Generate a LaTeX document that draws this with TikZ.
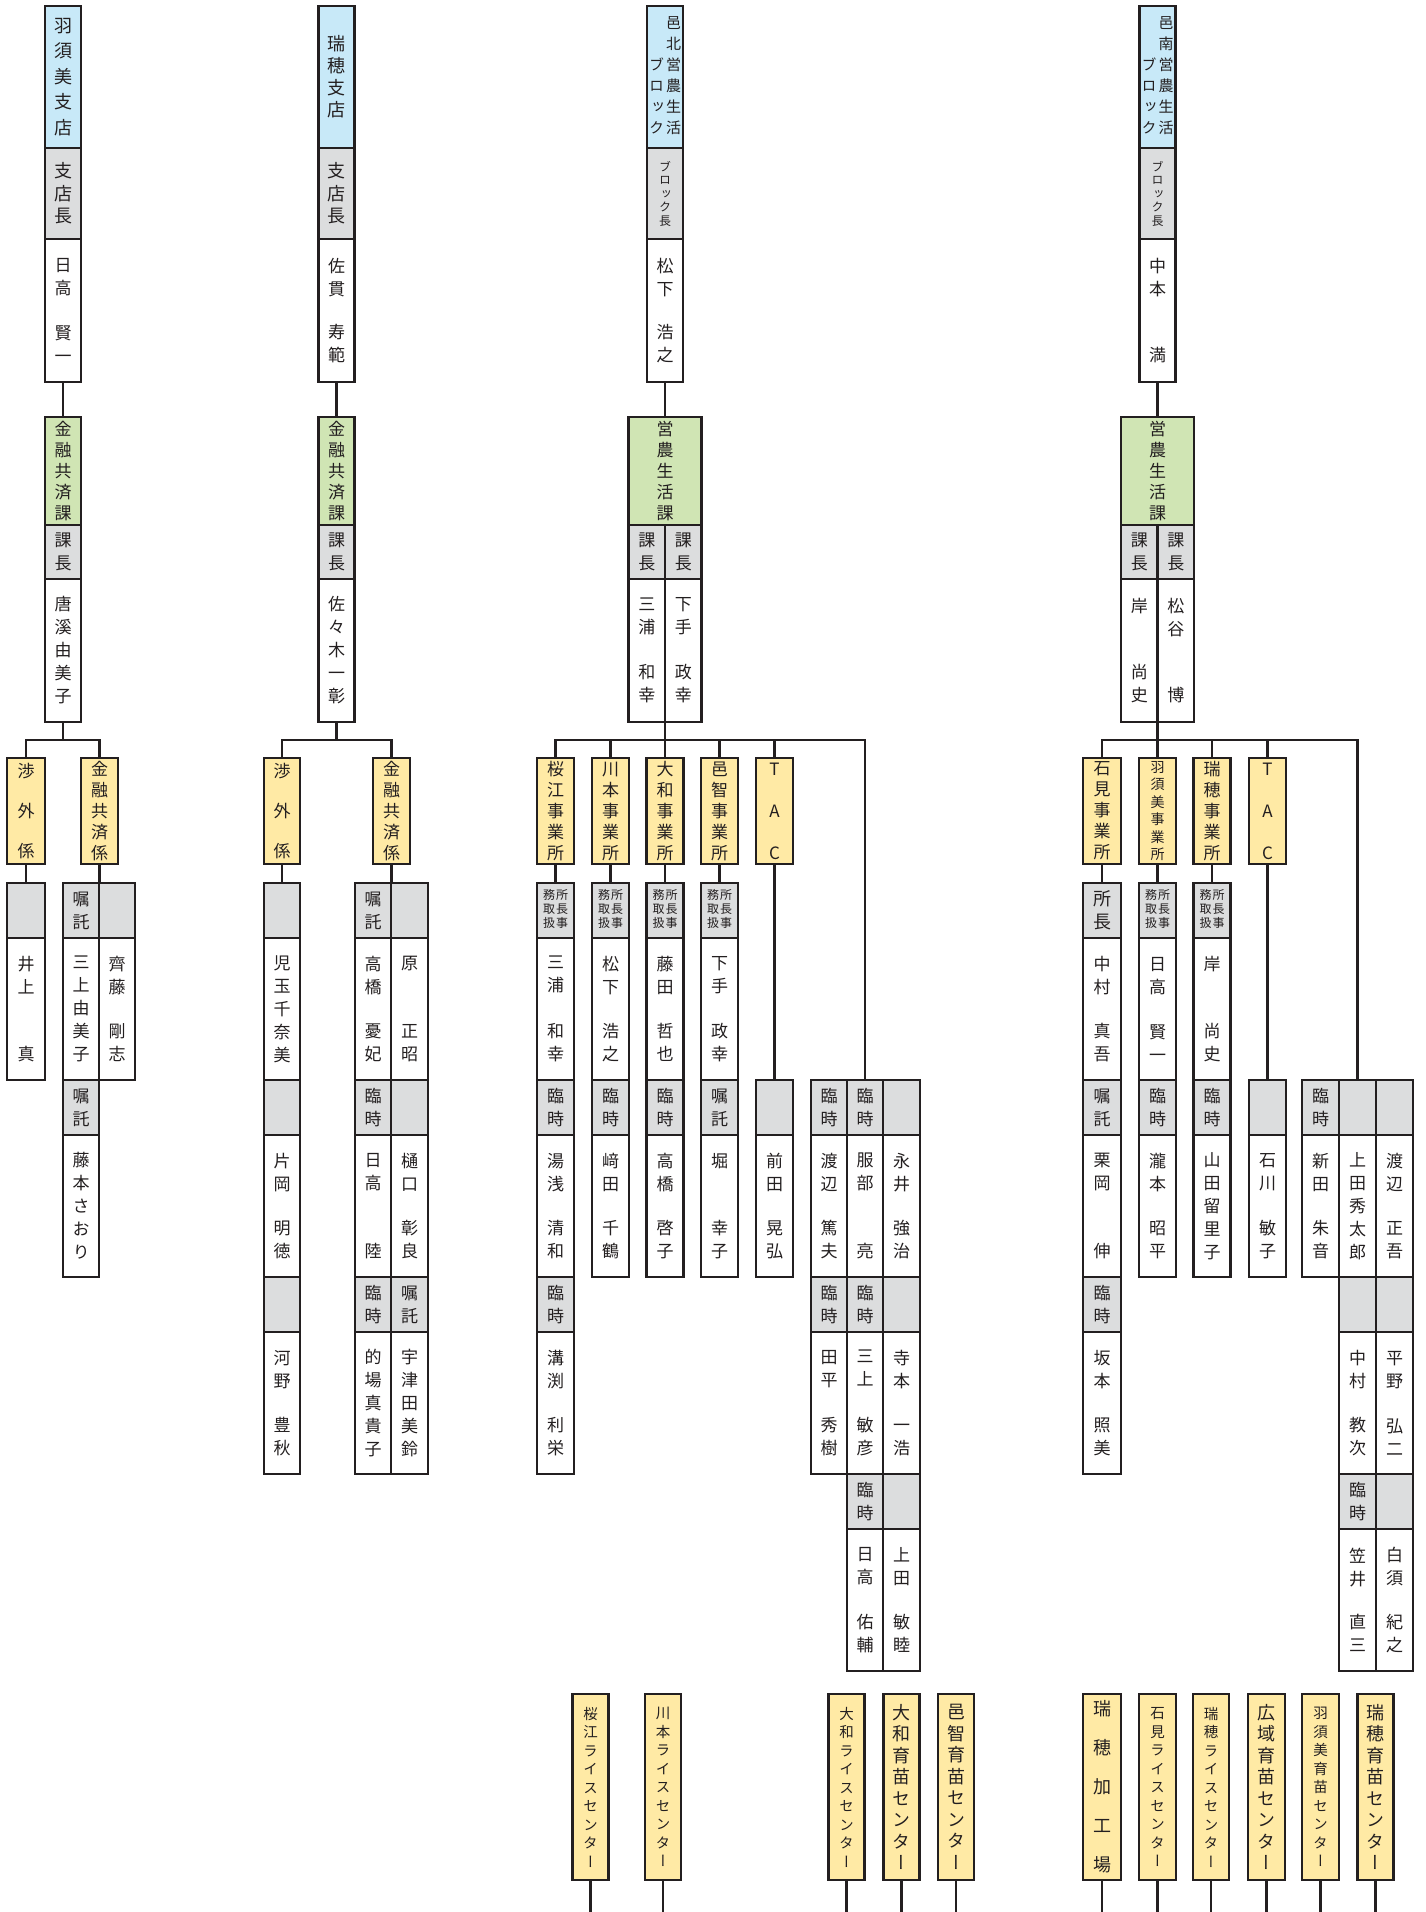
\documentclass[tikz,border=0pt]{standalone}
\usepackage{fontspec}
\setmainfont{Noto Sans CJK JP}[RawFeature=+vert]
\definecolor{linec}{HTML}{231F20}
\definecolor{sky}{HTML}{C8E9F8}
\definecolor{leaf}{HTML}{D0E5B4}
\definecolor{greyc}{HTML}{DCDDDE}
\definecolor{cream}{HTML}{FFEAA5}
% name cell: family name on top, given name at the bottom
\newcommand{\nm}[2]{\parbox[c][104pt][s]{30pt}{\centering #1\par\vfill #2\par}}
\newcommand{\tori}{{\fontsize{12}{14}\selectfont\begin{tabular}{@{}c@{\hspace{1pt}}c@{}}務&所\\取&長\\扱&事\end{tabular}}}
\tikzset{
  cellbox/.style={draw=linec, line width=2.2pt, inner sep=0pt, outer sep=0pt, anchor=north,
    minimum width=36pt, align=center, text=linec, font=\fontsize{17}{23}\selectfont},
  shiten/.style={cellbox, fill=sky, minimum height=142pt},
  yaku/.style={cellbox, fill=greyc, minimum height=55pt},
  meibo/.style={cellbox, fill=white, minimum height=142pt},
  kabox/.style={cellbox, fill=leaf, minimum height=108pt, font=\fontsize{17}{21}\selectfont},
  kakari/.style={cellbox, fill=cream, minimum width=37pt, minimum height=106pt, font=\fontsize{17}{21}\selectfont},
  shisetsu/.style={cellbox, fill=cream, minimum width=36pt, minimum height=186pt, font=\fontsize{14.5}{18.5}\selectfont},
  wire/.style={draw=linec, line width=2.2pt}
}
\begin{document}
\begin{tikzpicture}[x=1pt,y=-1pt]
  \fill[white] (0,0) rectangle (1425,1912);
  \useasboundingbox (0,0) rectangle (1425,1912);
  \coordinate (foot) at (0,1912);

  % ===== 羽須美支店 =====
  \node[shiten, font=\fontsize{18}{25.5}\selectfont] (hs) at (63,6) {羽\\須\\美\\支\\店};
  \node[yaku, minimum height=91pt, font=\fontsize{18}{22.5}\selectfont] (hsy) at (63,148) {支\\店\\長};
  \node[meibo, minimum height=143pt] (hsn) at (63,239) {\nm{日\\高}{賢\\一}};
  \node[kabox] (hsk) at (63,417) {金\\融\\共\\済\\課};
  \node[yaku, minimum height=54pt] (hsky) at (63,525) {課\\長};
  \node[meibo, minimum height=143pt] (hskn) at (63,579) {唐\\溪\\由\\美\\子};
  \node[kakari, minimum width=38pt, font=\fontsize{17}{40}\selectfont] (hsA) at (26,758) {渉\\外\\係};
  \node[kakari] (hsB) at (99.5,758) {金\\融\\共\\済\\係};
  % rows
  \node[yaku, minimum width=38pt] (hsA1) at (26,883) {};
  \node[meibo, minimum width=38pt] (hsA2) at (26,938) {\nm{井\\上}{真}};
  \node[yaku] (hsB1) at (81,883) {嘱\\託};
  \node[meibo] (hsB2) at (81,938) {三\\上\\由\\美\\子};
  \node[yaku] (hsB3) at (81,1080) {嘱\\託};
  \node[meibo] (hsB4) at (81,1135) {藤\\本\\さ\\お\\り};
  \node[yaku] (hsC1) at (117,883) {};
  \node[meibo] (hsC2) at (117,938) {\nm{齊\\藤}{剛\\志}};
  \draw[wire] (hsn.south) -- (hsk.north);
  \draw[wire] (hskn.south) -- ++(0,18) -| (hsA.north);
  \draw[wire] (hskn.south) -- ++(0,18) -| (hsB.north);
  \draw[wire] (hsA.south) -- (hsA1.north);
  \draw[wire] (hsB.south) -- (hsB.south |- hsB1.north);

  % ===== 瑞穂支店 =====
  \node[shiten, font=\fontsize{18}{22}\selectfont] (mz) at (336.5,6) {瑞\\穂\\支\\店};
  \node[yaku, minimum height=91pt, font=\fontsize{18}{22.5}\selectfont] (mzy) at (336.5,148) {支\\店\\長};
  \node[meibo, minimum height=143pt] (mzn) at (336.5,239) {\nm{佐\\貫}{寿\\範}};
  \node[kabox] (mzk) at (336.5,417) {金\\融\\共\\済\\課};
  \node[yaku, minimum height=54pt] (mzky) at (336.5,525) {課\\長};
  \node[meibo, minimum height=143pt] (mzkn) at (336.5,579) {佐\\々\\木\\一\\彰};
  \node[kakari, minimum width=36pt, font=\fontsize{17}{40}\selectfont] (mzA) at (282,758) {渉\\外\\係};
  \node[kakari] (mzB) at (391.5,758) {金\\融\\共\\済\\係};
  % rows
  \node[yaku] (mzA1) at (282,883) {};
  \node[meibo] (mzA2) at (282,938) {児\\玉\\千\\奈\\美};
  \node[yaku] (mzA3) at (282,1080) {};
  \node[meibo] (mzA4) at (282,1135) {\nm{片\\岡}{明\\徳}};
  \node[yaku] (mzA5) at (282,1277) {};
  \node[meibo] (mzA6) at (282,1332) {\nm{河\\野}{豊\\秋}};
  \node[yaku] (mzB1) at (373,883) {嘱\\託};
  \node[meibo] (mzB2) at (373,938) {\nm{高\\橋}{憂\\妃}};
  \node[yaku] (mzB3) at (373,1080) {臨\\時};
  \node[meibo] (mzB4) at (373,1135) {\nm{日\\高}{陸}};
  \node[yaku] (mzB5) at (373,1277) {臨\\時};
  \node[meibo] (mzB6) at (373,1332) {的\\場\\真\\貴\\子};
  \node[yaku, minimum width=37pt] (mzC1) at (409.5,883) {};
  \node[meibo, minimum width=37pt] (mzC2) at (409.5,938) {\nm{原}{正\\昭}};
  \node[yaku, minimum width=37pt] (mzC3) at (409.5,1080) {};
  \node[meibo, minimum width=37pt] (mzC4) at (409.5,1135) {\nm{樋\\口}{彰\\良}};
  \node[yaku, minimum width=37pt] (mzC5) at (409.5,1277) {嘱\\託};
  \node[meibo, minimum width=37pt] (mzC6) at (409.5,1332) {宇\\津\\田\\美\\鈴};
  \draw[wire] (mzn.south) -- (mzk.north);
  \draw[wire] (mzkn.south) -- ++(0,18) -| (mzA.north);
  \draw[wire] (mzkn.south) -- ++(0,18) -| (mzB.north);
  \draw[wire] (mzA.south) -- (mzA1.north);
  \draw[wire] (mzB.south) -- (mzB.south |- mzB1.north);

  % ===== 邑北営農生活ブロック =====
  \node[shiten, font=\fontsize{15}{21}\selectfont] (yh) at (665,6)
    {\begin{tabular}{@{}c@{\hspace{2pt}}c@{}} &邑\\ &北\\ブ&営\\ロ&農\\ッ&生\\ク&活\end{tabular}};
  \node[yaku, minimum height=91pt, font=\fontsize{12}{13.5}\selectfont] (yhy) at (665,148) {ブ\\ロ\\ッ\\ク\\長};
  \node[meibo, minimum height=143pt] (yhn) at (665,239) {\nm{松\\下}{浩\\之}};
  \node[kabox, minimum width=73pt] (yhk) at (665,417) {営\\農\\生\\活\\課};
  \node[yaku, minimum height=54pt, minimum width=36.5pt] (yhky1) at (646.75,525) {課\\長};
  \node[yaku, minimum height=54pt, minimum width=36.5pt] (yhky2) at (683.25,525) {課\\長};
  \node[meibo, minimum height=143pt, minimum width=36.5pt] (yhkn1) at (646.75,579) {\nm{三\\浦}{和\\幸}};
  \node[meibo, minimum height=143pt, minimum width=36.5pt] (yhkn2) at (683.25,579) {\nm{下\\手}{政\\幸}};
  \node[kakari] (yhA) at (555.5,758) {桜\\江\\事\\業\\所};
  \node[kakari] (yhB) at (610.5,758) {川\\本\\事\\業\\所};
  \node[kakari] (yhC) at (665,758) {大\\和\\事\\業\\所};
  \node[kakari] (yhD) at (719.5,758) {邑\\智\\事\\業\\所};
  \node[kakari, font=\fontsize{17}{42}\selectfont] (yhE) at (774.5,758) {T\\A\\C};
  % rows
  \node[yaku, minimum width=37pt] (yhA1) at (555.5,883) {\tori};
  \node[meibo, minimum width=37pt] (yhA2) at (555.5,938) {\nm{三\\浦}{和\\幸}};
  \node[yaku, minimum width=37pt] (yhA3) at (555.5,1080) {臨\\時};
  \node[meibo, minimum width=37pt] (yhA4) at (555.5,1135) {\nm{湯\\浅}{清\\和}};
  \node[yaku, minimum width=37pt] (yhA5) at (555.5,1277) {臨\\時};
  \node[meibo, minimum width=37pt] (yhA6) at (555.5,1332) {\nm{溝\\渕}{利\\栄}};
  \node[yaku, minimum width=37pt] (yhB1) at (610.5,883) {\tori};
  \node[meibo, minimum width=37pt] (yhB2) at (610.5,938) {\nm{松\\下}{浩\\之}};
  \node[yaku, minimum width=37pt] (yhB3) at (610.5,1080) {臨\\時};
  \node[meibo, minimum width=37pt] (yhB4) at (610.5,1135) {\nm{﨑\\田}{千\\鶴}};
  \node[yaku, minimum width=37pt] (yhC1) at (665,883) {\tori};
  \node[meibo, minimum width=37pt] (yhC2) at (665,938) {\nm{藤\\田}{哲\\也}};
  \node[yaku, minimum width=37pt] (yhC3) at (665,1080) {臨\\時};
  \node[meibo, minimum width=37pt] (yhC4) at (665,1135) {\nm{高\\橋}{啓\\子}};
  \node[yaku, minimum width=37pt] (yhD1) at (719.5,883) {\tori};
  \node[meibo, minimum width=37pt] (yhD2) at (719.5,938) {\nm{下\\手}{政\\幸}};
  \node[yaku, minimum width=37pt] (yhD3) at (719.5,1080) {嘱\\託};
  \node[meibo, minimum width=37pt] (yhD4) at (719.5,1135) {\nm{堀}{幸\\子}};
  \node[yaku, minimum width=37pt] (yhE1) at (774.5,1080) {};
  \node[meibo, minimum width=37pt] (yhE2) at (774.5,1135) {\nm{前\\田}{晃\\弘}};
  % temporary staff group
  \node[yaku] (yhF1) at (829,1080) {臨\\時};
  \node[meibo] (yhF2) at (829,1135) {\nm{渡\\辺}{篤\\夫}};
  \node[yaku] (yhF3) at (829,1277) {臨\\時};
  \node[meibo] (yhF4) at (829,1332) {\nm{田\\平}{秀\\樹}};
  \node[yaku] (yhG1) at (865,1080) {臨\\時};
  \node[meibo] (yhG2) at (865,1135) {\nm{服\\部}{亮}};
  \node[yaku] (yhG3) at (865,1277) {臨\\時};
  \node[meibo] (yhG4) at (865,1332) {\nm{三\\上}{敏\\彦}};
  \node[yaku] (yhG5) at (865,1474) {臨\\時};
  \node[meibo] (yhG6) at (865,1529) {\nm{日\\高}{佑\\輔}};
  \node[yaku, minimum width=37pt] (yhH1) at (901.5,1080) {};
  \node[meibo, minimum width=37pt] (yhH2) at (901.5,1135) {\nm{永\\井}{強\\治}};
  \node[yaku, minimum width=37pt] (yhH3) at (901.5,1277) {};
  \node[meibo, minimum width=37pt] (yhH4) at (901.5,1332) {\nm{寺\\本}{一\\浩}};
  \node[yaku, minimum width=37pt] (yhH5) at (901.5,1474) {};
  \node[meibo, minimum width=37pt] (yhH6) at (901.5,1529) {\nm{上\\田}{敏\\睦}};
  \draw[wire] (yhn.south) -- (yhk.north);
  \draw[wire] (yhkn1.south east) -- ++(0,18) -| (yhA.north);
  \draw[wire] (yhkn1.south east) -- ++(0,18) -| (yhB.north);
  \draw[wire] (yhkn1.south east) -- (yhC.north);
  \draw[wire] (yhkn1.south east) -- ++(0,18) -| (yhD.north);
  \draw[wire] (yhkn1.south east) -- ++(0,18) -| (yhE.north);
  \draw[wire] (yhkn1.south east) -- ++(0,18) -| (yhG1.north);
  \draw[wire] (yhA.south) -- (yhA1.north);
  \draw[wire] (yhB.south) -- (yhB1.north);
  \draw[wire] (yhC.south) -- (yhC1.north);
  \draw[wire] (yhD.south) -- (yhD1.north);
  \draw[wire] (yhE.south) -- (yhE1.north);

  % ===== 邑南営農生活ブロック =====
  \node[shiten, font=\fontsize{15}{21}\selectfont] (yn) at (1157.5,6)
    {\begin{tabular}{@{}c@{\hspace{2pt}}c@{}} &邑\\ &南\\ブ&営\\ロ&農\\ッ&生\\ク&活\end{tabular}};
  \node[yaku, minimum height=91pt, font=\fontsize{12}{13.5}\selectfont] (yny) at (1157.5,148) {ブ\\ロ\\ッ\\ク\\長};
  \node[meibo, minimum height=143pt] (ynn) at (1157.5,239) {\nm{中\\本}{満}};
  \node[kabox, minimum width=73pt] (ynk) at (1157.5,417) {営\\農\\生\\活\\課};
  \node[yaku, minimum height=54pt, minimum width=36.5pt] (ynky1) at (1139.25,525) {課\\長};
  \node[yaku, minimum height=54pt, minimum width=36.5pt] (ynky2) at (1175.75,525) {課\\長};
  \node[meibo, minimum height=143pt, minimum width=36.5pt] (ynkn1) at (1139.25,579) {\nm{岸}{尚\\史}};
  \node[meibo, minimum height=143pt, minimum width=36.5pt] (ynkn2) at (1175.75,579) {\nm{松\\谷}{博}};
  \node[kakari, minimum width=38pt] (ynA) at (1102,758) {石\\見\\事\\業\\所};
  \node[kakari, font=\fontsize{14}{17.5}\selectfont] (ynB) at (1157.5,758) {羽\\須\\美\\事\\業\\所};
  \node[kakari] (ynC) at (1212,758) {瑞\\穂\\事\\業\\所};
  \node[kakari, font=\fontsize{17}{42}\selectfont] (ynD) at (1267.5,758) {T\\A\\C};
  % rows
  \node[yaku, minimum width=38pt, font=\fontsize{18}{23}\selectfont] (ynA1) at (1102,883) {所\\長};
  \node[meibo, minimum width=38pt] (ynA2) at (1102,938) {\nm{中\\村}{真\\吾}};
  \node[yaku, minimum width=38pt] (ynA3) at (1102,1080) {嘱\\託};
  \node[meibo, minimum width=38pt] (ynA4) at (1102,1135) {\nm{栗\\岡}{伸}};
  \node[yaku, minimum width=38pt] (ynA5) at (1102,1277) {臨\\時};
  \node[meibo, minimum width=38pt] (ynA6) at (1102,1332) {\nm{坂\\本}{照\\美}};
  \node[yaku, minimum width=37pt] (ynB1) at (1157.5,883) {\tori};
  \node[meibo, minimum width=37pt] (ynB2) at (1157.5,938) {\nm{日\\高}{賢\\一}};
  \node[yaku, minimum width=37pt] (ynB3) at (1157.5,1080) {臨\\時};
  \node[meibo, minimum width=37pt] (ynB4) at (1157.5,1135) {\nm{瀧\\本}{昭\\平}};
  \node[yaku, minimum width=37pt] (ynC1) at (1212,883) {\tori};
  \node[meibo, minimum width=37pt] (ynC2) at (1212,938) {\nm{岸}{尚\\史}};
  \node[yaku, minimum width=37pt] (ynC3) at (1212,1080) {臨\\時};
  \node[meibo, minimum width=37pt] (ynC4) at (1212,1135) {山\\田\\留\\里\\子};
  \node[yaku, minimum width=37pt] (ynD1) at (1267.5,1080) {};
  \node[meibo, minimum width=37pt] (ynD2) at (1267.5,1135) {\nm{石\\川}{敏\\子}};
  % temporary staff group
  \node[yaku, minimum width=37pt] (ynF1) at (1320.5,1080) {臨\\時};
  \node[meibo, minimum width=37pt] (ynF2) at (1320.5,1135) {\nm{新\\田}{朱\\音}};
  \node[yaku, minimum width=37pt] (ynG1) at (1357.5,1080) {};
  \node[meibo, minimum width=37pt] (ynG2) at (1357.5,1135) {上\\田\\秀\\太\\郎};
  \node[yaku, minimum width=37pt] (ynG3) at (1357.5,1277) {};
  \node[meibo, minimum width=37pt] (ynG4) at (1357.5,1332) {\nm{中\\村}{教\\次}};
  \node[yaku, minimum width=37pt] (ynG5) at (1357.5,1474) {臨\\時};
  \node[meibo, minimum width=37pt] (ynG6) at (1357.5,1529) {\nm{笠\\井}{直\\三}};
  \node[yaku, minimum width=37pt] (ynH1) at (1394.5,1080) {};
  \node[meibo, minimum width=37pt] (ynH2) at (1394.5,1135) {\nm{渡\\辺}{正\\吾}};
  \node[yaku, minimum width=37pt] (ynH3) at (1394.5,1277) {};
  \node[meibo, minimum width=37pt] (ynH4) at (1394.5,1332) {\nm{平\\野}{弘\\二}};
  \node[yaku, minimum width=37pt] (ynH5) at (1394.5,1474) {};
  \node[meibo, minimum width=37pt] (ynH6) at (1394.5,1529) {\nm{白\\須}{紀\\之}};
  \draw[wire] (ynn.south) -- (ynk.north);
  \draw[wire] (ynkn1.south east) -- ++(0,18) -| (ynA.north);
  \draw[wire] (ynkn1.south east) -- (ynB.north);
  \draw[wire] (ynkn1.south east) -- ++(0,18) -| (ynC.north);
  \draw[wire] (ynkn1.south east) -- ++(0,18) -| (ynD.north);
  \draw[wire] (ynkn1.south east) -- ++(0,18) -| (ynG1.north);
  \draw[wire] (ynA.south) -- (ynA1.north);
  \draw[wire] (ynB.south) -- (ynB1.north);
  \draw[wire] (ynC.south) -- (ynC1.north);
  \draw[wire] (ynD.south) -- (ynD1.north);

  % ===== centres at the bottom =====
  \node[shisetsu] (cs1) at (590.5,1694) {桜\\江\\ラ\\イ\\ス\\セ\\ン\\タ\\ー};
  \node[shisetsu] (cs2) at (663,1694) {川\\本\\ラ\\イ\\ス\\セ\\ン\\タ\\ー};
  \node[shisetsu] (cs3) at (846.5,1694) {大\\和\\ラ\\イ\\ス\\セ\\ン\\タ\\ー};
  \node[shisetsu, font=\fontsize{18}{21.5}\selectfont] (cs4) at (901.5,1694) {大\\和\\育\\苗\\セ\\ン\\タ\\ー};
  \node[shisetsu, font=\fontsize{18}{21.5}\selectfont] (cs5) at (956,1694) {邑\\智\\育\\苗\\セ\\ン\\タ\\ー};
  \node[shisetsu, minimum width=38pt, font=\fontsize{18}{39}\selectfont] (cs6) at (1102,1694) {瑞\\穂\\加\\工\\場};
  \node[shisetsu, minimum width=37pt] (cs7) at (1157.5,1694) {石\\見\\ラ\\イ\\ス\\セ\\ン\\タ\\ー};
  \node[shisetsu] (cs8) at (1211,1694) {瑞\\穂\\ラ\\イ\\ス\\セ\\ン\\タ\\ー};
  \node[shisetsu, minimum width=37pt, font=\fontsize{18}{21.5}\selectfont] (cs9) at (1266.5,1694) {広\\域\\育\\苗\\セ\\ン\\タ\\ー};
  \node[shisetsu, minimum width=37pt] (cs10) at (1320.5,1694) {羽\\須\\美\\育\\苗\\セ\\ン\\タ\\ー};
  \node[shisetsu, font=\fontsize{18}{21.5}\selectfont] (cs11) at (1375.5,1694) {瑞\\穂\\育\\苗\\セ\\ン\\タ\\ー};
  \draw[wire] (cs1.south) -- (cs1.south |- foot);
  \draw[wire] (cs2.south) -- (cs2.south |- foot);
  \draw[wire] (cs3.south) -- (cs3.south |- foot);
  \draw[wire] (cs4.south) -- (cs4.south |- foot);
  \draw[wire] (cs5.south) -- (cs5.south |- foot);
  \draw[wire] (cs6.south) -- (cs6.south |- foot);
  \draw[wire] (cs7.south) -- (cs7.south |- foot);
  \draw[wire] (cs8.south) -- (cs8.south |- foot);
  \draw[wire] (cs9.south) -- (cs9.south |- foot);
  \draw[wire] (cs10.south) -- (cs10.south |- foot);
  \draw[wire] (cs11.south) -- (cs11.south |- foot);
\end{tikzpicture}
\end{document}
